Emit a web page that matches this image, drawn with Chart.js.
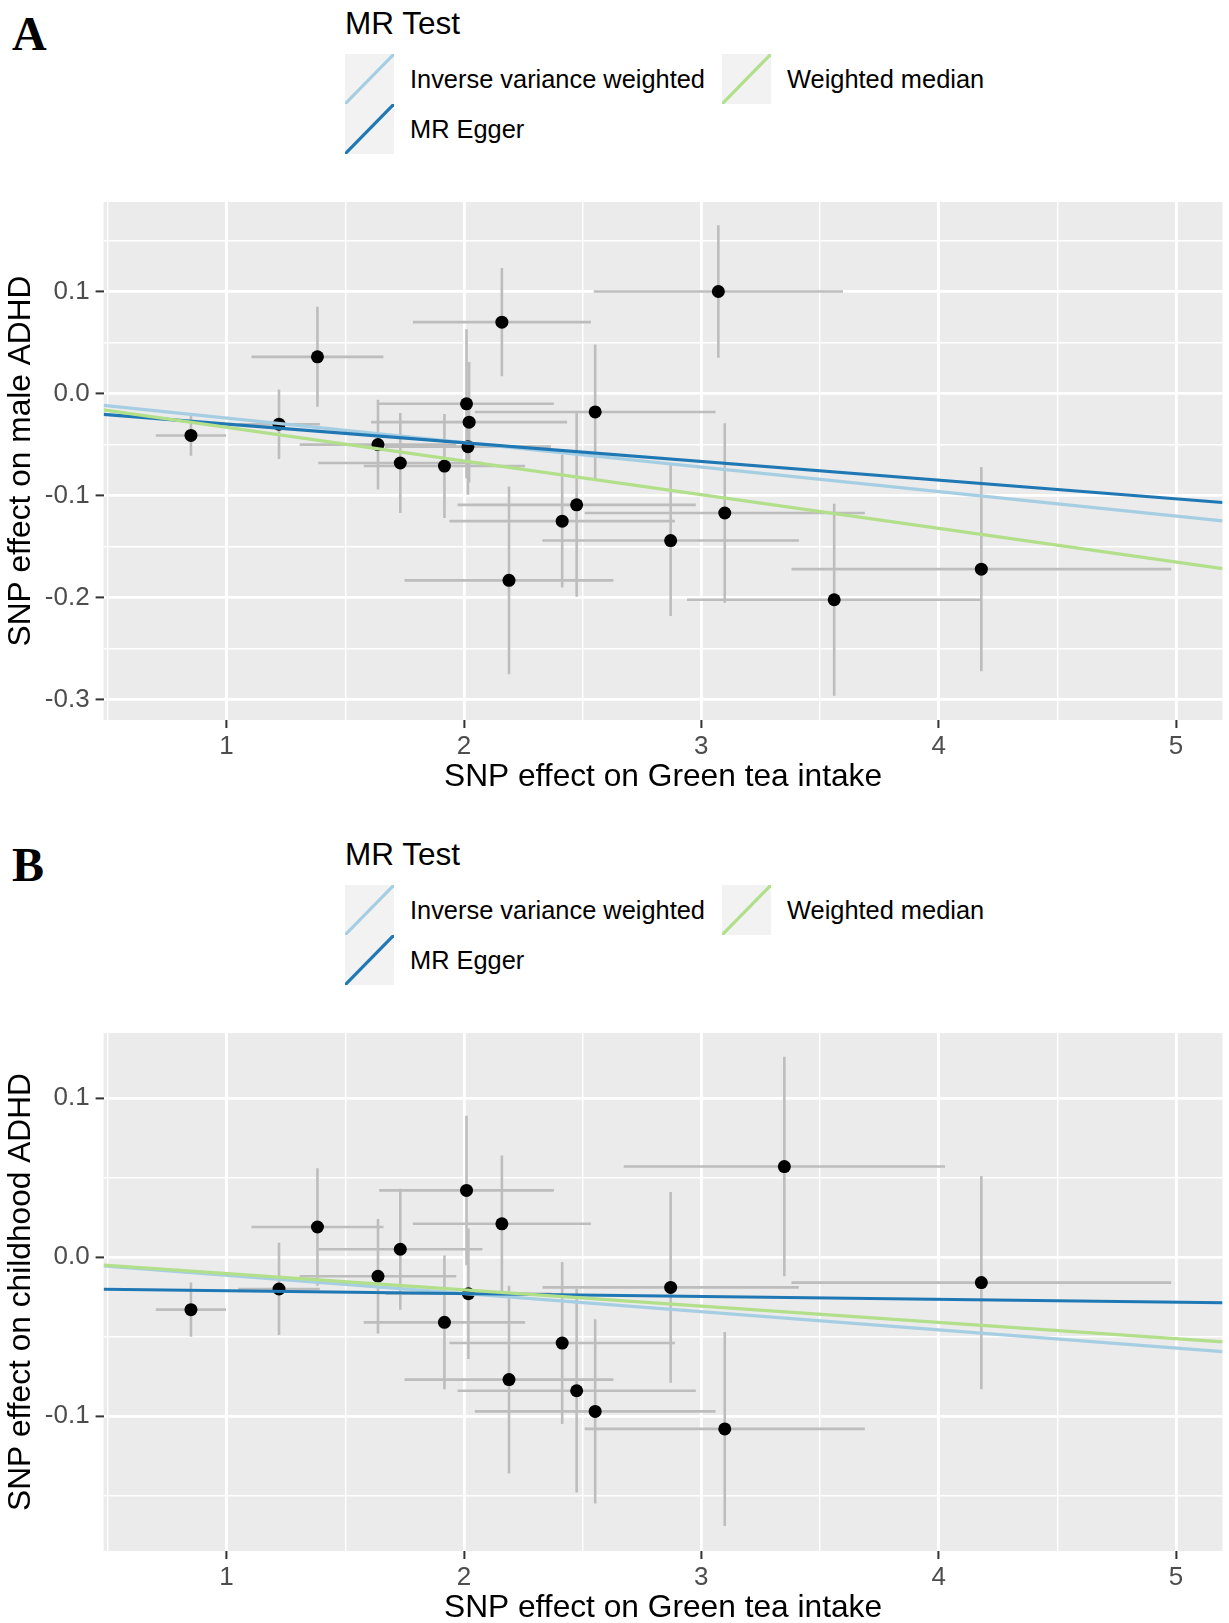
<!DOCTYPE html>
<html>
<head>
<meta charset="utf-8">
<title>MR scatter plots</title>
<script src="https://cdn.jsdelivr.net/npm/chart.js@4.4.1/dist/chart.umd.min.js"></script>
<style>
  body { margin: 0; background: #ffffff; font-family: 'Liberation Sans', Arial, sans-serif; }
  #page { position: relative; width: 1229px; height: 1623px; overflow: hidden; }
  .panel { position: absolute; left: 0; width: 1229px; height: 831px; }
  .letter { position: absolute; left: 12px; top: 10px; font: bold 48px 'Liberation Serif', 'Times New Roman', serif; line-height: 48px; color: #000; }
  .legend-title { position: absolute; left: 345px; top: 8px; font-size: 31.5px; line-height: 31.5px; color: #000; }
  .legend-item { position: absolute; height: 50px; display: flex; align-items: center; font-size: 25.4px; line-height: 25px; color: #000; }
  .legend-item svg { display: block; margin-right: 16px; }
  .plot { position: absolute; left: 0; top: 190px; width: 1229px; height: 610px; }
</style>
</head>
<body>
<div id="page">
  <div class="panel" id="panel-a" style="top: 0px;">
    <div class="letter">A</div>
    <div class="legend-title">MR Test</div>
    <div class="plot"><canvas id="chart-a" width="1229" height="610"></canvas></div>
  </div>
  <div class="panel" id="panel-b" style="top: 831px;">
    <div class="letter">B</div>
    <div class="legend-title">MR Test</div>
    <div class="plot"><canvas id="chart-b" width="1229" height="610"></canvas></div>
  </div>
</div>

<script>
// MR methods (same for both panels)
var methods = ['Inverse variance weighted', 'MR Egger', 'Weighted median'];
var methodColors = ['#A6CEE3', '#1F78B4', '#B2DF8A'];

// x axis range, shared by both panels
var xMin = 0.482;
var xMax = 5.196;

// A: SNP effect on Green tea intake (exposure) vs male ADHD (outcome)
var maleExpBeta = [0.850, 1.221, 1.383, 1.638, 1.732, 1.918, 2.011, 2.022, 2.017, 2.160, 2.190, 2.414, 2.475, 2.553, 2.871, 3.072, 3.099, 3.560, 4.180];
var maleExpSe   = [0.148, 0.172, 0.278, 0.330, 0.346, 0.340, 0.368, 0.413, 0.350, 0.375, 0.440, 0.475, 0.502, 0.507, 0.540, 0.525, 0.590, 0.620, 0.800];
var maleOutBeta = [-0.041, -0.030, 0.036, -0.050, -0.068, -0.071, -0.010, -0.028, -0.052, 0.070, -0.183, -0.125, -0.109, -0.018, -0.144, 0.100, -0.117, -0.202, -0.172];
var maleOutSe   = [0.020, 0.034, 0.049, 0.044, 0.049, 0.051, 0.073, 0.059, 0.047, 0.053, 0.092, 0.065, 0.090, 0.066, 0.074, 0.065, 0.088, 0.094, 0.100];
var maleSlopes     = [-0.0240, -0.0183, -0.0330];
var maleIntercepts = [0, -0.0116, 0];
var maleYRange = [-0.3198, 0.1877];

// B: SNP effect on Green tea intake vs childhood ADHD
var childExpBeta = [0.850, 1.221, 1.383, 1.638, 1.732, 1.918, 2.011, 2.019, 2.160, 2.190, 2.414, 2.475, 2.553, 2.871, 3.099, 3.350, 4.180];
var childExpSe   = [0.148, 0.172, 0.278, 0.330, 0.346, 0.340, 0.368, 0.350, 0.375, 0.440, 0.475, 0.502, 0.507, 0.540, 0.590, 0.677, 0.800];
var childOutBeta = [-0.033, -0.020, 0.019, -0.012, 0.005, -0.041, 0.042, -0.023, 0.021, -0.077, -0.054, -0.084, -0.097, -0.019, -0.108, 0.057, -0.016];
var childOutSe   = [0.017, 0.029, 0.037, 0.036, 0.038, 0.042, 0.047, 0.041, 0.043, 0.059, 0.051, 0.064, 0.058, 0.060, 0.061, 0.069, 0.067];
var childSlopes     = [-0.01143, -0.0018, -0.01026];
var childIntercepts = [0, -0.0193, 0];
var childYRange = [-0.1848, 0.141];


Chart.defaults.font.family = "'Liberation Sans', Arial, sans-serif";

// grey ggplot panel behind the grid
var panelBackground = {
  id: 'panelBackground',
  beforeDraw: function(chart) {
    var a = chart.chartArea;
    var ctx = chart.ctx;
    ctx.save();
    ctx.fillStyle = '#EBEBEB';
    ctx.fillRect(a.left, a.top, a.right - a.left, a.bottom - a.top);
    ctx.restore();
  }
};

function isMultiple(value, step) {
  var r = value / step;
  return Math.abs(r - Math.round(r)) < 1e-6;
}


function addLegend(panelId) {
  var panel = document.getElementById(panelId);
  // ggplot fills the legend by column: two rows
  var spots = [[345, 54], [345, 104], [722, 54]];
  for (var m = 0; m < methods.length; m++) {
    var item = document.createElement('div');
    item.className = 'legend-item';
    item.style.left = spots[m][0] + 'px';
    item.style.top = spots[m][1] + 'px';
    item.innerHTML = '<svg width="49" height="50"><rect width="49" height="50" fill="#F2F2F2"/>' +
      '<line x1="0" y1="50" x2="49" y2="0" stroke="' + methodColors[m] + '" stroke-width="3.2"/></svg>' +
      '<span>' + methods[m] + '</span>';
    panel.appendChild(item);
  }
}


function buildChart(canvasId, expBeta, expSe, outBeta, outSe, slopes, intercepts, yRange, yTitle) {
  var datasets = [];

  // regression lines on top (lower order is drawn last)
  var lineOrder = [3, 2, 1];
  for (var m = 0; m < methods.length; m++) {
    datasets.push({
      label: methods[m],
      data: [
        { x: xMin, y: intercepts[m] + slopes[m] * xMin },
        { x: xMax, y: intercepts[m] + slopes[m] * xMax }
      ],
      showLine: true,
      borderColor: methodColors[m],
      borderWidth: 3.2,
      pointRadius: 0,
      order: lineOrder[m]
    });
  }

  var points = [];
  for (var i = 0; i < expBeta.length; i++) {
    points.push({ x: expBeta[i], y: outBeta[i] });

    // vertical and horizontal error bars
    datasets.push({
      data: [{ x: expBeta[i], y: outBeta[i] - outSe[i] }, { x: expBeta[i], y: outBeta[i] + outSe[i] }],
      showLine: true, borderColor: '#BDBDBD', borderWidth: 2.6, pointRadius: 0, order: 6
    });
    datasets.push({
      data: [{ x: expBeta[i] - expSe[i], y: outBeta[i] }, { x: expBeta[i] + expSe[i], y: outBeta[i] }],
      showLine: true, borderColor: '#BDBDBD', borderWidth: 2.6, pointRadius: 0, order: 6
    });
  }

  datasets.push({
    data: points,
    pointRadius: 6.5,
    pointBackgroundColor: '#000000',
    pointBorderWidth: 0,
    order: 5
  });

  return new Chart(document.getElementById(canvasId), {
    type: 'scatter',
    data: { datasets: datasets },
    plugins: [panelBackground],
    options: {
      responsive: false,
      animation: false,
      events: [],
      devicePixelRatio: 1,
      layout: { padding: { top: 12, right: 2.5, left: 0, bottom: 0 } },
      plugins: {
        legend: { display: false },
        tooltip: { enabled: false }
      },
      scales: {
        x: {
          type: 'linear',
          min: xMin,
          max: xMax,
          afterFit: function(scale) {
            scale.height = 80;
            scale.paddingLeft = 0;
            scale.paddingRight = 0;
          },
          border: { display: false },
          grid: {
            color: '#FFFFFF',
            lineWidth: function(c) { return isMultiple(c.tick.value, 1) ? 2.8 : 1.4; },
            tickLength: 8,
            tickColor: function(c) { return isMultiple(c.tick.value, 1) ? '#333333' : 'rgba(0,0,0,0)'; },
            tickWidth: 2
          },
          ticks: {
            stepSize: 0.5,
            includeBounds: false,
            maxTicksLimit: 100,
            autoSkip: false,
            maxRotation: 0,
            padding: 3,
            color: '#4D4D4D',
            font: { size: 26 },
            callback: function(value) { return isMultiple(value, 1) ? String(Math.round(value)) : ''; }
          },
          title: {
            display: true,
            text: 'SNP effect on Green tea intake',
            color: '#000000',
            font: { size: 31.7 },
            padding: { top: 0, bottom: 4 }
          }
        },
        y: {
          type: 'linear',
          min: yRange[0],
          max: yRange[1],
          afterFit: function(scale) {
            scale.width = 103.6;
            scale.paddingTop = 0;
            scale.paddingBottom = 0;
          },
          border: { display: false },
          grid: {
            color: '#FFFFFF',
            lineWidth: function(c) { return isMultiple(c.tick.value, 0.1) ? 2.8 : 1.4; },
            tickLength: 8,
            tickColor: function(c) { return isMultiple(c.tick.value, 0.1) ? '#333333' : 'rgba(0,0,0,0)'; },
            tickWidth: 2
          },
          ticks: {
            stepSize: 0.05,
            includeBounds: false,
            maxTicksLimit: 100,
            autoSkip: false,
            padding: 6,
            color: '#4D4D4D',
            font: { size: 26 },
            callback: function(value) { return isMultiple(value, 0.1) ? (Math.round(value * 10) / 10).toFixed(1) : ''; }
          },
          title: {
            display: true,
            text: yTitle,
            color: '#000000',
            font: { size: 31.7 },
            padding: { top: 2, bottom: 0 }
          }
        }
      }
    }
  });
}


addLegend('panel-a');
addLegend('panel-b');

buildChart('chart-a', maleExpBeta, maleExpSe, maleOutBeta, maleOutSe, maleSlopes, maleIntercepts, maleYRange, 'SNP effect on male ADHD');
buildChart('chart-b', childExpBeta, childExpSe, childOutBeta, childOutSe, childSlopes, childIntercepts, childYRange, 'SNP effect on childhood ADHD');
</script>
</body>
</html>
